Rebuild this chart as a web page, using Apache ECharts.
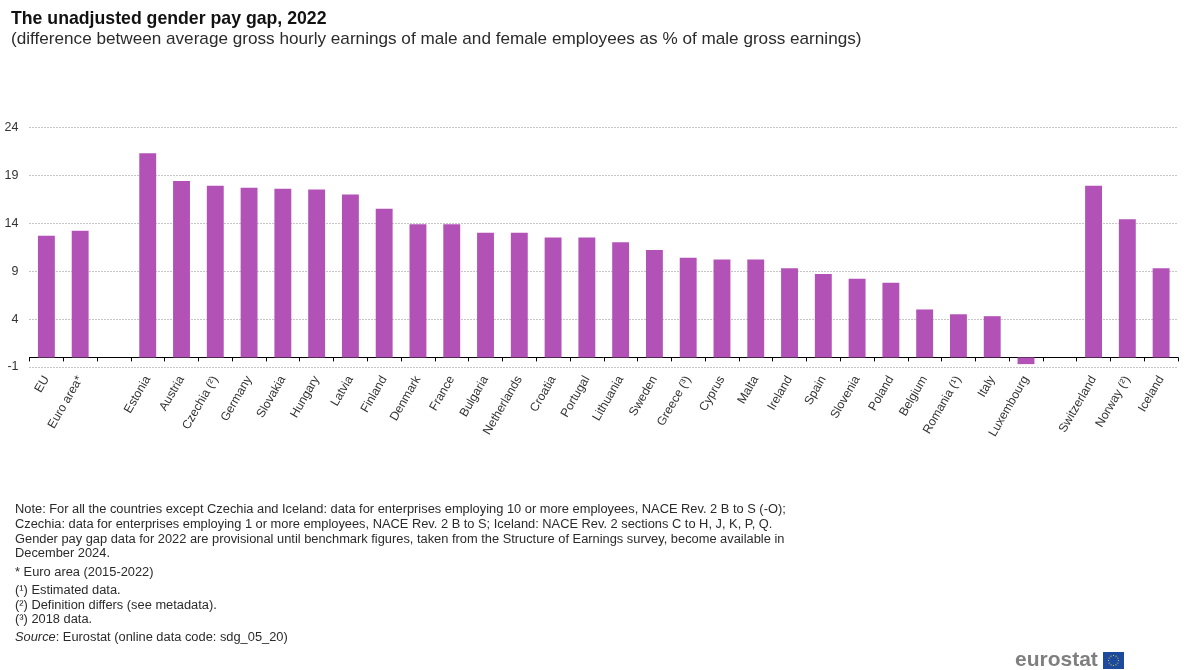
<!DOCTYPE html>
<html>
<head>
<meta charset="utf-8">
<title>The unadjusted gender pay gap, 2022</title>
<style>html,body{margin:0;padding:0;background:#fff}#chart{width:1200px;height:670px}</style>
<script src="https://cdn.jsdelivr.net/npm/echarts@6/dist/echarts.min.js"></script>
</head>
<body>
<div id="chart"></div>
<script>
// Blank categories separate the EU aggregates, member states and EFTA countries.
const categories = ['EU','Euro area*','','Estonia','Austria','Czechia (²)','Germany','Slovakia','Hungary','Latvia','Finland','Denmark','France','Bulgaria','Netherlands','Croatia','Portugal','Lithuania','Sweden','Greece (³)','Cyprus','Malta','Ireland','Spain','Slovenia','Poland','Belgium','Romania (¹)','Italy','Luxembourg','','Switzerland','Norway (²)','Iceland'];
const payGap = [12.7,13.2,null,21.3,18.4,17.9,17.7,17.6,17.5,17.0,15.5,13.9,13.9,13.0,13.0,12.5,12.5,12.0,11.2,10.4,10.2,10.2,9.3,8.7,8.2,7.8,5.0,4.5,4.3,-0.7,null,17.9,14.4,9.3];
const valueAxisMin = -1, valueAxisMax = 24, valueAxisStep = 5;

const titleText = 'The unadjusted gender pay gap, 2022';
const subtitleText = '(difference between average gross hourly earnings of male and female employees as % of male gross earnings)';
const noteLines = [
  'Note: For all the countries except Czechia and Iceland: data for enterprises employing 10 or more employees, NACE Rev. 2 B to S (-O);',
  'Czechia: data for enterprises employing 1 or more employees, NACE Rev. 2 B to S; Iceland: NACE Rev. 2 sections C to H, J, K, P, Q.',
  'Gender pay gap data for 2022 are provisional until benchmark figures, taken from the Structure of Earnings survey, become available in',
  'December 2024.',
  '* Euro area (2015-2022)',
  '(¹) Estimated data.',
  '(²) Definition differs (see metadata).',
  '(³) 2018 data.'
];
const noteRows = [509,524,539,553,572,590,605,619];
const FONT = '"Liberation Sans", Arial, sans-serif';

const textEl = (x, y, text, style) => ({
  type: 'text', x, y,
  style: Object.assign({ text, fontFamily: FONT, fontSize: 12.85, fill: '#2b2b2b', verticalAlign: 'middle' }, style)
});

const graphics = [
  textEl(11, 19, titleText, { fontSize: 17.7, fontWeight: 'bold', fill: '#111' }),
  textEl(11, 39, subtitleText, { fontSize: 17.15 }),
  ...noteLines.map((line, i) => textEl(15, noteRows[i], line)),
  textEl(15, 637, '{i|Source}: Eurostat (online data code: sdg_05_20)', {
    rich: { i: { fontStyle: 'italic', fontFamily: FONT, fontSize: 12.85, fill: '#2b2b2b' } }
  }),
  textEl(1015, 660, 'eurostat', { fontSize: 21, fontWeight: 'bold', fill: '#7f7f7f' }),
  { type: 'rect', shape: { x: 1103, y: 652, width: 21, height: 17 }, style: { fill: '#1c4a9c' } }
];
// Ring of twelve stars on the logo flag
for (let i = 0; i < 12; i++) {
  const a = i * Math.PI / 6;
  graphics.push({ type: 'circle', shape: { cx: 1113.5 + 5 * Math.cos(a), cy: 660.5 + 5 * Math.sin(a), r: 0.6 }, style: { fill: '#e8d44a' } });
}

const chart = echarts.init(document.getElementById('chart'), null, { renderer: 'canvas' });
chart.setOption({
  animation: false,
  backgroundColor: '#fff',
  grid: { left: 29.5, right: 22, top: 127.3, bottom: 303 },
  xAxis: {
    type: 'category',
    data: categories,
    axisLine: { onZero: true, lineStyle: { color: '#000', width: 1 } },
    axisTick: { show: true, length: 4, lineStyle: { color: '#000' } },
    axisLabel: { interval: 0, rotate: 60, margin: 10, fontFamily: FONT, fontSize: 12.2, color: '#333' },
    splitLine: { show: false }
  },
  yAxis: {
    type: 'value',
    min: valueAxisMin, max: valueAxisMax, interval: valueAxisStep,
    axisLine: { show: false },
    axisTick: { show: false },
    axisLabel: { margin: 11, fontFamily: FONT, fontSize: 12.5, color: '#333' },
    splitLine: { show: true, lineStyle: { color: '#8c8c8c', type: [1, 2], width: 1 } }
  },
  series: [{
    type: 'bar',
    data: payGap,
    barWidth: '50%',
    itemStyle: { color: '#b252b7' }
  }],
  graphic: { elements: graphics }
});
</script>
</body>
</html>
